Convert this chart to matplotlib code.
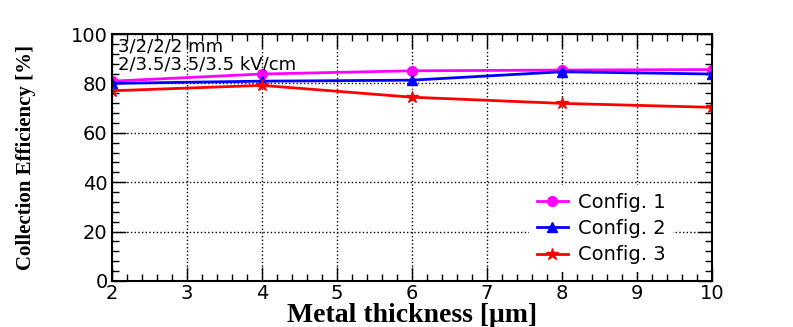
import numpy as np
import matplotlib
matplotlib.use("Agg")
from matplotlib import pyplot as plt
from matplotlib.ticker import MultipleLocator

# metal thickness [um]
thickness = [2, 4, 6, 8, 10]

# collection efficiency [%]
config1 = [80.9, 83.8, 85.1, 85.4, 85.6]
config2 = [80.0, 80.9, 81.3, 84.7, 83.8]
config3 = [77.0, 79.2, 74.4, 71.9, 70.3]

labels = ["Config. 1", "Config. 2", "Config. 3"]

plt.rcParams['font.family'] = ['DejaVu Sans']

fig = plt.figure(figsize=(7.93, 3.27), dpi=100)
ax = fig.add_axes([0.141, 0.141, 0.757, 0.755])

ax.plot(thickness, config1, color='#ff00ff', marker='o', markersize=7, lw=2, label=labels[0])
ax.plot(thickness, config2, color='#0000ff', marker='^', markersize=7, lw=2, label=labels[1])
ax.plot(thickness, config3, color='#ff0000', marker='*', markersize=9, lw=2, label=labels[2])

ax.set_xlim(2, 10)
ax.set_ylim(0, 100)
ax.xaxis.set_major_locator(MultipleLocator(1))
ax.xaxis.set_minor_locator(MultipleLocator(0.2))
ax.yaxis.set_major_locator(MultipleLocator(20))
ax.yaxis.set_minor_locator(MultipleLocator(4))
ax.tick_params(which='both', direction='in', top=True, right=True, labelsize=14)
ax.tick_params(which='major', length=10, width=1)
ax.tick_params(which='minor', length=5, width=1)
ax.tick_params(axis='x', pad=2)
ax.tick_params(axis='y', pad=3)
for s in ax.spines.values():
    s.set_linewidth(1.5)
ax.grid(True, which='major', color='black', linestyle=':', linewidth=1)

ax.set_xlabel("Metal thickness [\u03bcm]", family='Liberation Serif', fontweight='bold', fontsize=20, labelpad=0)
ax.set_ylabel("Collection Efficiency [%]", family='Liberation Serif', fontweight='bold', fontsize=15, labelpad=25)

ax.text(0.01, 0.985, "3/2/2/2 mm\n2/3.5/3.5/3.5 kV/cm", transform=ax.transAxes,
        va='top', ha='left', fontsize=13, linespacing=1.0)

# ROOT style legend: white box, no border
leg = ax.legend(loc='lower right', bbox_to_anchor=(0.935, 0.035), frameon=True, fancybox=False,
                facecolor='white', edgecolor='none', framealpha=1, fontsize=14,
                handlelength=1.6, handletextpad=0.5, labelspacing=0.38, borderpad=0.4,
                borderaxespad=0)

fig.savefig("out.png", dpi=100)
